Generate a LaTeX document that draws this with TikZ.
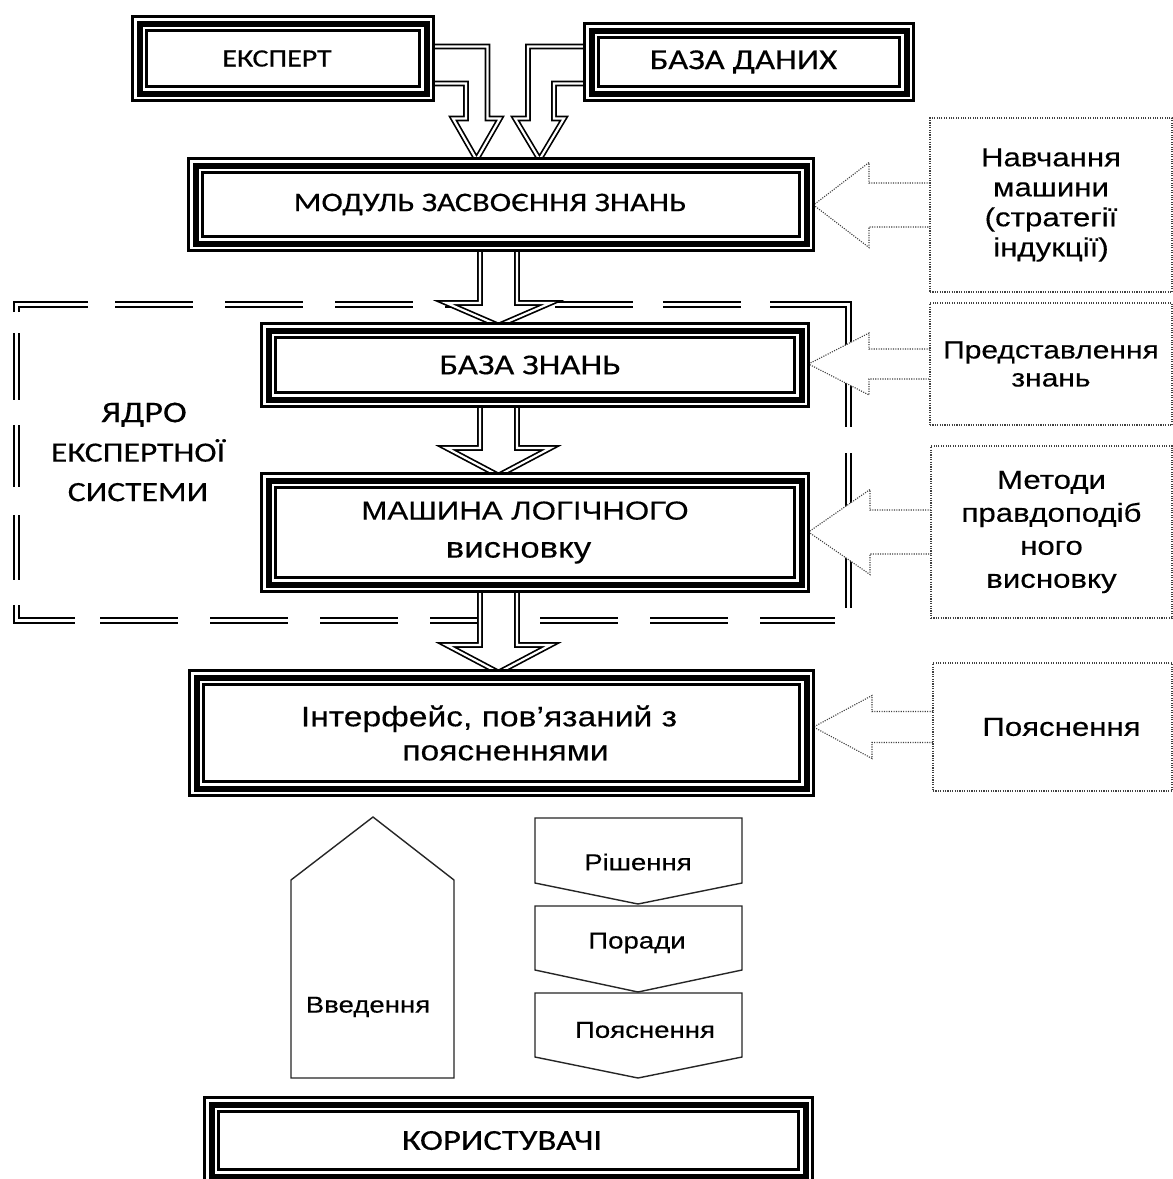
\documentclass[tikz,border=0pt]{standalone}
\usepackage{fontspec}
\usetikzlibrary{calc}
\newfontfamily\carl[FakeStretch=1.2,FakeBold=0.3]{Carlito}
\newfontfamily\lib[FakeStretch=1.2,FakeBold=0.3]{Liberation Sans}
\pgfdeclarelayer{back}\pgfdeclarelayer{bg}\pgfsetlayers{back,bg,main}
\newcommand\fsz[2]{\fontsize{#1}{#2}\selectfont}
\tikzset{
 tbox/.style={preaction={draw,line width=17pt}, preaction={draw,white,line width=11pt}, draw, line width=6pt, inner sep=0pt, outer sep=0pt, align=center},
 blk/.style={draw, line width=1.7pt, double=white, double distance=2.2pt, fill=white, line join=miter},
 dbox/.style={draw=black!75, line width=1.1pt, dash pattern=on 1.1pt off 1.3pt, inner sep=0pt, outer sep=0pt, align=center},
 darr/.style={draw=black!75, line width=1.1pt, dash pattern=on 1.1pt off 1.3pt, fill=white},
 frm/.style={draw, line width=1.6pt, double=white, double distance=3pt},
 shp/.style={draw=black!85, line width=1.4pt},
 btxt/.style={font=\lib\fsz{23}{27}, inner sep=0pt},
}
\newcommand\vblk[4]{\draw[blk] let \p1=(#1.south), \p2=(#2.north), \p3=(#3) in
 (\x3-18.5pt,\y1) -- (\x3-18.5pt,\y2+#4) -- (\x3-52pt,\y2+#4) -- (\x3,\y2+5pt) -- (\x3+52pt,\y2+#4) -- (\x3+18.5pt,\y2+#4) -- (\x3+18.5pt,\y1);}
\newcommand\darrow[4]{\draw[darr] let \p1=(#1.west), \p2=(#2.east) in
 (\x1,\y1+#3) -- (\x1-61pt,\y1+#3) -- (\x1-61pt,\y1+#4) -- (\x2+7pt,\y1) -- (\x1-61pt,\y1-#4) -- (\x1-61pt,\y1-#3) -- (\x1,\y1-#3);}
\begin{document}
\begin{tikzpicture}[x=1pt,y=-1pt]
\path[use as bounding box] (0,0) rectangle (1173,1179);
\begin{pgfonlayer}{back}\fill[white] (0,0) rectangle (1173,1179);\end{pgfonlayer}
\coordinate (ax) at (498.5,0);
% main boxes
\node[tbox, minimum width=287pt, minimum height=70pt, font=\carl\fsz{25}{30}] (eks) at (283,58.5) {ЕКСПЕРТ\kern12pt};
\node[tbox, minimum width=315pt, minimum height=63pt, font=\carl\fsz{29}{34}] (bd) at (749,62) {БАЗА ДАНИХ\kern11pt};
\node[tbox, minimum width=611pt, minimum height=78pt, font=\carl\fsz{27}{32}] (mod) at (501,204.5) {МОДУЛЬ ЗАСВОЄННЯ ЗНАНЬ\kern22pt};
\node[tbox, minimum width=533pt, minimum height=69pt, font=\carl\fsz{29}{34}] (bz) at (535,365) {БАЗА ЗНАНЬ\kern10pt};
\node[tbox, minimum width=533pt, minimum height=104pt, font=\lib\fsz{26}{38}] (lm) at (535,532.5) {МАШИНА ЛОГІЧНОГО\kern20pt\\{\fsz{29}{38}висновку}\kern33pt};
\node[tbox, minimum width=610pt, minimum height=111pt, font=\lib\fsz{28}{34}] (ifc) at (501.5,733) {Інтерфейс, пов’язаний з\kern25pt\\\kern8pt поясненнями};
\node[tbox, minimum width=594pt, minimum height=72pt, font=\carl\fsz{29}{34}] (usr) at (508.5,1140.5) {КОРИСТУВАЧІ\kern13pt};
% core label
\node[font=\carl\fsz{28}{39.5}, align=center, inner sep=0pt] (core) at (138,452) {\kern12pt{\fsz{30}{39.5}ЯДРО}\\ЕКСПЕРТНОЇ\\СИСТЕМИ};
% right dotted boxes
\node[dbox, minimum width=242pt, minimum height=174pt, font=\lib\fsz{26}{30}] (n1) at (1051,205) {Навчання\\машини\\(стратегії\\індукції)};
\node[dbox, minimum width=242pt, minimum height=122pt, font=\lib\fsz{25}{28}] (n2) at (1051,364) {Представлення\\знань};
\node[dbox, minimum width=241pt, minimum height=172pt, font=\lib\fsz{26}{33}] (n3) at (1051.5,532) {Методи\\правдоподіб\\ного\\висновку};
\node[dbox, minimum width=239pt, minimum height=128pt, font=\lib\fsz{26}{30}] (n4) at (1052.5,727) {\kern18pt Пояснення};
% bottom shapes
\draw[shp] (291,1078) -- (291,880) -- (373,817) -- (454,880) -- (454,1078) -- cycle;
\node[btxt] (vv) at (368,1007) {Введення};
\draw[shp] (535,818) -- (742,818) -- (742,883) -- (638,904) -- (535,883) -- cycle;
\node[btxt] (r1) at (638,862) {Рішення};
\draw[shp] (535,906) -- (742,906) -- (742,970) -- (638,992) -- (535,970) -- cycle;
\node[btxt] (r2) at (637,943) {Поради};
\draw[shp] (535,993) -- (742,993) -- (742,1057) -- (638,1078) -- (535,1057) -- cycle;
\node[btxt] (r3) at (645,1030) {Пояснення};
\begin{pgfonlayer}{bg}
% dashed double frame of the core
\draw[frm] (16.5,312) -- (16.5,304.5) -- (88,304.5);
\foreach \a in {115,225,335,445,555,663} \draw[frm] (\a,304.5) -- (\a+78,304.5);
\draw[frm] (770,304.5) -- (848.5,304.5) -- (848.5,427);
\draw[frm] (848.5,453) -- (848.5,608);
\draw[frm] (16.5,333) -- (16.5,400);
\draw[frm] (16.5,425) -- (16.5,487);
\draw[frm] (16.5,515) -- (16.5,580);
\draw[frm] (16.5,605) -- (16.5,620.5) -- (75,620.5);
\foreach \a in {100,210,320,430,540,650} \draw[frm] (\a,620.5) -- (\a+78,620.5);
\draw[frm] (760,620.5) -- (835,620.5);
% top bent arrows
\draw[blk] let \p1=(eks.east), \p2=(mod.north) in (\x1,-46.5pt) -- (487.5pt,-46.5pt) -- (487.5pt,-118.5pt) -- (500pt,-118.5pt) -- (476.5pt,\y2+6pt) -- (453pt,-118.5pt) -- (466pt,-118.5pt) -- (466pt,-83.5pt) -- (\x1,-83.5pt);
\draw[blk] let \p1=(bd.west), \p2=(mod.north) in (\x1,-46.5pt) -- (528pt,-46.5pt) -- (528pt,-118.5pt) -- (515pt,-118.5pt) -- (539.5pt,\y2+6pt) -- (564pt,-118.5pt) -- (554pt,-118.5pt) -- (554pt,-83.5pt) -- (\x1,-83.5pt);
% vertical block arrows
\vblk{mod}{bz}{ax}{27.5pt}
\vblk{bz}{lm}{ax}{32.5pt}
\vblk{lm}{ifc}{ax}{32.5pt}
% dotted arrows
\darrow{n1}{mod}{22pt}{42.5pt}
\darrow{n2}{bz}{15pt}{31pt}
\darrow{n3}{lm}{22pt}{42.5pt}
\darrow{n4}{ifc}{15.5pt}{31.5pt}
\end{pgfonlayer}
\end{tikzpicture}
\end{document}
